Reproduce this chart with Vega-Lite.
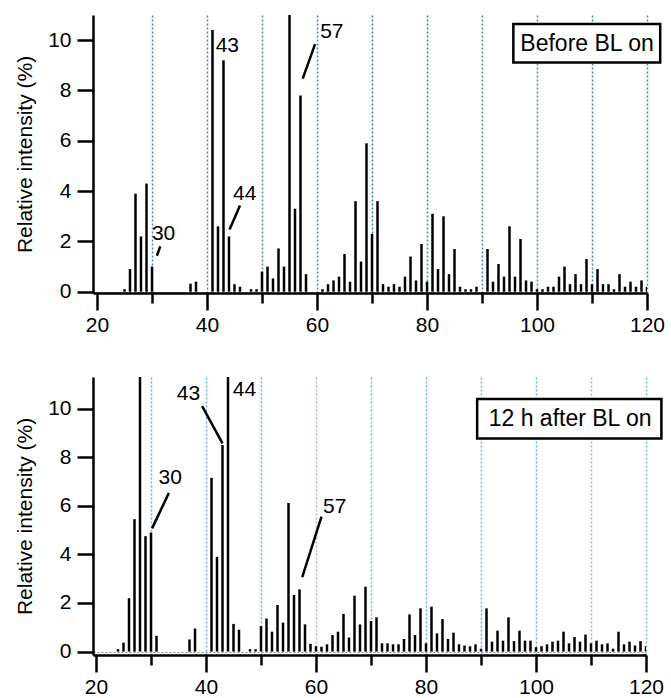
{
  "$schema": "https://vega.github.io/schema/vega-lite/v6.json",
  "background": "white",
  "padding": {"left": 14, "top": 15, "right": 0, "bottom": 0},
  "config": {
    "view": {"stroke": null},
    "font": "Liberation Sans",
    "text": {"font": "Liberation Sans", "color": "black"}
  },
  "datasets": {
    "top_bars": [
      {"mz":25,"v":0.1},{"mz":26,"v":0.9},{"mz":27,"v":3.9},{"mz":28,"v":2.2},{"mz":29,"v":4.3},{"mz":30,"v":1.0},
      {"mz":37,"v":0.32},{"mz":38,"v":0.4},{"mz":41,"v":10.4},{"mz":42,"v":2.6},{"mz":43,"v":9.2},{"mz":44,"v":2.2},
      {"mz":45,"v":0.3},{"mz":46,"v":0.2},{"mz":48,"v":0.1},{"mz":49,"v":0.1},{"mz":50,"v":0.8},{"mz":51,"v":1.0},
      {"mz":52,"v":0.53},{"mz":53,"v":1.72},{"mz":54,"v":1.0},{"mz":55,"v":14},{"mz":56,"v":3.3},{"mz":57,"v":7.8},
      {"mz":58,"v":0.7},{"mz":61,"v":0.1},{"mz":62,"v":0.3},{"mz":63,"v":0.45},{"mz":64,"v":0.6},{"mz":65,"v":1.5},
      {"mz":66,"v":0.4},{"mz":67,"v":3.6},{"mz":68,"v":1.2},{"mz":69,"v":5.9},{"mz":70,"v":2.3},{"mz":71,"v":3.6},
      {"mz":72,"v":0.3},{"mz":73,"v":0.2},{"mz":74,"v":0.3},{"mz":75,"v":0.2},{"mz":76,"v":0.6},{"mz":77,"v":1.4},
      {"mz":78,"v":0.45},{"mz":79,"v":1.9},{"mz":80,"v":0.4},{"mz":81,"v":3.1},{"mz":82,"v":0.9},{"mz":83,"v":3.0},
      {"mz":84,"v":0.7},{"mz":85,"v":1.7},{"mz":86,"v":0.2},{"mz":87,"v":0.1},{"mz":88,"v":0.1},{"mz":89,"v":0.2},
      {"mz":91,"v":1.7},{"mz":92,"v":0.4},{"mz":93,"v":1.1},{"mz":94,"v":0.6},{"mz":95,"v":2.6},{"mz":96,"v":0.6},
      {"mz":97,"v":2.1},{"mz":98,"v":0.45},{"mz":99,"v":0.4},{"mz":100,"v":0.1},{"mz":101,"v":0.1},{"mz":102,"v":0.2},
      {"mz":103,"v":0.2},{"mz":104,"v":0.6},{"mz":105,"v":1.0},{"mz":106,"v":0.3},{"mz":107,"v":0.7},{"mz":108,"v":0.3},
      {"mz":109,"v":1.3},{"mz":110,"v":0.3},{"mz":111,"v":0.9},{"mz":112,"v":0.3},{"mz":113,"v":0.3},{"mz":114,"v":0.1},
      {"mz":115,"v":0.7},{"mz":116,"v":0.2},{"mz":117,"v":0.4},{"mz":118,"v":0.2},{"mz":119,"v":0.45},{"mz":120,"v":0.2}
    ],
    "bot_bars": [
      {"mz":24,"v":0.1},{"mz":25,"v":0.37},{"mz":26,"v":2.2},{"mz":27,"v":5.45},{"mz":28,"v":14},{"mz":29,"v":4.75},
      {"mz":30,"v":4.9},{"mz":31,"v":0.65},{"mz":37,"v":0.5},{"mz":38,"v":0.95},{"mz":41,"v":7.15},{"mz":42,"v":3.9},
      {"mz":43,"v":8.5},{"mz":44,"v":14},{"mz":45,"v":1.14},{"mz":46,"v":0.9},{"mz":48,"v":0.1},{"mz":49,"v":0.1},
      {"mz":50,"v":1.05},{"mz":51,"v":1.36},{"mz":52,"v":0.82},{"mz":53,"v":1.92},{"mz":54,"v":1.19},{"mz":55,"v":6.12},
      {"mz":56,"v":2.33},{"mz":57,"v":2.56},{"mz":58,"v":1.12},{"mz":59,"v":0.32},{"mz":60,"v":0.22},{"mz":61,"v":0.2},
      {"mz":62,"v":0.3},{"mz":63,"v":0.68},{"mz":64,"v":0.82},{"mz":65,"v":1.55},{"mz":66,"v":0.58},{"mz":67,"v":2.3},
      {"mz":68,"v":1.12},{"mz":69,"v":2.67},{"mz":70,"v":1.26},{"mz":71,"v":1.41},{"mz":72,"v":0.34},{"mz":73,"v":0.34},
      {"mz":74,"v":0.3},{"mz":75,"v":0.3},{"mz":76,"v":0.52},{"mz":77,"v":1.53},{"mz":78,"v":0.68},{"mz":79,"v":1.78},
      {"mz":80,"v":0.34},{"mz":81,"v":1.85},{"mz":82,"v":0.75},{"mz":83,"v":1.34},{"mz":84,"v":0.52},{"mz":85,"v":0.78},
      {"mz":86,"v":0.3},{"mz":87,"v":0.25},{"mz":88,"v":0.22},{"mz":89,"v":0.3},{"mz":90,"v":0.12},{"mz":91,"v":1.78},
      {"mz":92,"v":0.41},{"mz":93,"v":0.86},{"mz":94,"v":0.45},{"mz":95,"v":1.41},{"mz":96,"v":0.43},{"mz":97,"v":0.86},
      {"mz":98,"v":0.45},{"mz":99,"v":0.45},{"mz":100,"v":0.18},{"mz":101,"v":0.22},{"mz":102,"v":0.3},{"mz":103,"v":0.41},
      {"mz":104,"v":0.45},{"mz":105,"v":0.82},{"mz":106,"v":0.34},{"mz":107,"v":0.6},{"mz":108,"v":0.41},{"mz":109,"v":0.7},
      {"mz":110,"v":0.34},{"mz":111,"v":0.45},{"mz":112,"v":0.3},{"mz":113,"v":0.34},{"mz":114,"v":0.12},{"mz":115,"v":0.82},
      {"mz":116,"v":0.3},{"mz":117,"v":0.41},{"mz":118,"v":0.25},{"mz":119,"v":0.43},{"mz":120,"v":0.22}
    ],
    "top_labels": [
      {"mz":32.1,"v":2.3,"t":"30"},{"mz":43.7,"v":9.77,"t":"43"},{"mz":46.85,"v":3.88,"t":"44"},{"mz":62.7,"v":10.34,"t":"57"}
    ],
    "top_leaders": [
      {"a":30.9,"b":1.43,"c":31.5,"d":1.8},{"a":44.1,"b":2.47,"c":46.0,"d":3.43},{"a":57.4,"b":8.47,"c":59.65,"d":9.84}
    ],
    "top_box": [{"a":95.7,"c":122.4,"b":9.11,"d":10.64,"tx":109.1,"ty":9.84,"t":"Before BL on"}],
    "bot_labels": [
      {"mz":33.5,"v":7.13,"t":"30"},{"mz":36.8,"v":10.58,"t":"43"},{"mz":47.0,"v":10.76,"t":"44"},{"mz":63.4,"v":5.94,"t":"57"}
    ],
    "bot_leaders": [
      {"a":30.2,"b":5.07,"c":33.25,"d":6.53},{"a":39.3,"b":10.1,"c":43.0,"d":8.57},{"a":57.5,"b":3.06,"c":61.0,"d":5.55}
    ],
    "bot_box": [{"a":89.3,"c":122.8,"b":8.77,"d":10.39,"tx":106.2,"ty":9.58,"t":"12 h after BL on"}]
  },
  "spacing": 42,
  "vconcat": [
    {
      "width": 554,
      "height": 278,
      "layer": [
        {
          "data": {"name": "top_bars"},
          "mark": {"type": "rule", "strokeWidth": 2.5, "color": "black", "clip": true, "strokeCap": "butt"},
          "encoding": {
            "x": {"field": "mz", "type": "quantitative",
              "scale": {"domain": [19.272727, 120], "nice": false, "zero": false},
              "axis": {"values": [20,30,40,50,60,70,80,90,100,110,120], "title": null,
                "labelExpr": "datum.value % 20 == 0 ? datum.label : ''",
                "tickSize": {"condition": {"test": "datum.value % 20 == 0", "value": 17}, "value": 10},
                "tickWidth": 2.5, "tickColor": "black", "domainWidth": 2.5, "domainColor": "black",
                "labelFontSize": 21, "labelColor": "black", "labelPadding": 4, "labelFlush": false, "labelOverlap": false,
                "grid": true, "gridDash": [2, 2], "gridWidth": 1.5, "gridColor": "#4a86a2",
                "gridOpacity": {"condition": {"test": "datum.value == 20", "value": 0}, "value": 1}}},
            "y": {"field": "v", "type": "quantitative",
              "scale": {"domain": [-0.05, 11], "nice": false, "zero": false},
              "axis": {"values": [0,2,4,6,8,10], "title": "Relative intensity (%)",
                "titleFontSize": 21, "titleFontWeight": "normal", "titleColor": "black", "titlePadding": 12,
                "tickSize": 16, "tickWidth": 2.5, "tickColor": "black", "domainWidth": 2.5, "domainColor": "black",
                "labelFontSize": 21, "labelColor": "black", "labelPadding": 6,
                "grid": true, "gridDash": [2, 2], "gridWidth": 1, "gridColor": "#888888",
                "gridOpacity": {"condition": {"test": "datum.value == 0", "value": 1}, "value": 0}}},
            "y2": {"datum": 0}
          }
        },
        {
          "data": {"name": "top_leaders"},
          "mark": {"type": "rule", "strokeWidth": 2.5, "color": "black"},
          "encoding": {
            "x": {"field": "a", "type": "quantitative"},
            "y": {"field": "b", "type": "quantitative"},
            "x2": {"field": "c"},
            "y2": {"field": "d"}
          }
        },
        {
          "data": {"name": "top_labels"},
          "mark": {"type": "text", "fontSize": 21, "align": "center", "baseline": "middle"},
          "encoding": {
            "x": {"field": "mz", "type": "quantitative"},
            "y": {"field": "v", "type": "quantitative"},
            "text": {"field": "t"}
          }
        },
        {
          "data": {"name": "top_box"},
          "mark": {"type": "rect", "fill": "white", "stroke": "black", "strokeWidth": 2.5},
          "encoding": {
            "x": {"field": "a", "type": "quantitative"},
            "y": {"field": "b", "type": "quantitative"},
            "x2": {"field": "c"},
            "y2": {"field": "d"}
          }
        },
        {
          "data": {"name": "top_box"},
          "mark": {"type": "text", "fontSize": 23, "align": "center", "baseline": "middle"},
          "encoding": {
            "x": {"field": "tx", "type": "quantitative"},
            "y": {"field": "ty", "type": "quantitative"},
            "text": {"field": "t"}
          }
        }
      ]
    },
    {
      "width": 553,
      "height": 278,
      "layer": [
        {
          "data": {"name": "bot_bars"},
          "mark": {"type": "rule", "strokeWidth": 2.5, "color": "black", "clip": true, "strokeCap": "butt"},
          "encoding": {
            "x": {"field": "mz", "type": "quantitative",
              "scale": {"domain": [19.454545, 120], "nice": false, "zero": false},
              "axis": {"values": [20,30,40,50,60,70,80,90,100,110,120], "title": null,
                "labelExpr": "datum.value % 20 == 0 ? datum.label : ''",
                "tickSize": {"condition": {"test": "datum.value % 20 == 0", "value": 17}, "value": 10},
                "tickWidth": 2.5, "tickColor": "black", "domainWidth": 2.5, "domainColor": "black",
                "labelFontSize": 21, "labelColor": "black", "labelPadding": 4, "labelFlush": false, "labelOverlap": false,
                "grid": true, "gridDash": [2, 2], "gridWidth": 1.5,
                "gridColor": {"condition": {"test": "datum.value == 110 || datum.value == 60", "value": "#cf9cc4"}, "value": "#74a8ea"},
                "gridOpacity": {"condition": {"test": "datum.value == 20", "value": 0}, "value": 1}}},
            "y": {"field": "v", "type": "quantitative",
              "scale": {"domain": [-0.14, 11.3], "nice": false, "zero": false},
              "axis": {"values": [0,2,4,6,8,10], "title": "Relative intensity (%)",
                "titleFontSize": 21, "titleFontWeight": "normal", "titleColor": "black", "titlePadding": 12,
                "tickSize": 16, "tickWidth": 2.5, "tickColor": "black", "domainWidth": 2.5, "domainColor": "black",
                "labelFontSize": 21, "labelColor": "black", "labelPadding": 6,
                "grid": true, "gridDash": [2, 2], "gridWidth": 1, "gridColor": "#888888",
                "gridOpacity": {"condition": {"test": "datum.value == 0", "value": 1}, "value": 0}}},
            "y2": {"datum": 0}
          }
        },
        {
          "data": {"name": "bot_leaders"},
          "mark": {"type": "rule", "strokeWidth": 2.5, "color": "black"},
          "encoding": {
            "x": {"field": "a", "type": "quantitative"},
            "y": {"field": "b", "type": "quantitative"},
            "x2": {"field": "c"},
            "y2": {"field": "d"}
          }
        },
        {
          "data": {"name": "bot_labels"},
          "mark": {"type": "text", "fontSize": 21, "align": "center", "baseline": "middle"},
          "encoding": {
            "x": {"field": "mz", "type": "quantitative"},
            "y": {"field": "v", "type": "quantitative"},
            "text": {"field": "t"}
          }
        },
        {
          "data": {"name": "bot_box"},
          "mark": {"type": "rect", "fill": "white", "stroke": "black", "strokeWidth": 2.5},
          "encoding": {
            "x": {"field": "a", "type": "quantitative"},
            "y": {"field": "b", "type": "quantitative"},
            "x2": {"field": "c"},
            "y2": {"field": "d"}
          }
        },
        {
          "data": {"name": "bot_box"},
          "mark": {"type": "text", "fontSize": 23, "align": "center", "baseline": "middle"},
          "encoding": {
            "x": {"field": "tx", "type": "quantitative"},
            "y": {"field": "ty", "type": "quantitative"},
            "text": {"field": "t"}
          }
        }
      ]
    }
  ]
}
